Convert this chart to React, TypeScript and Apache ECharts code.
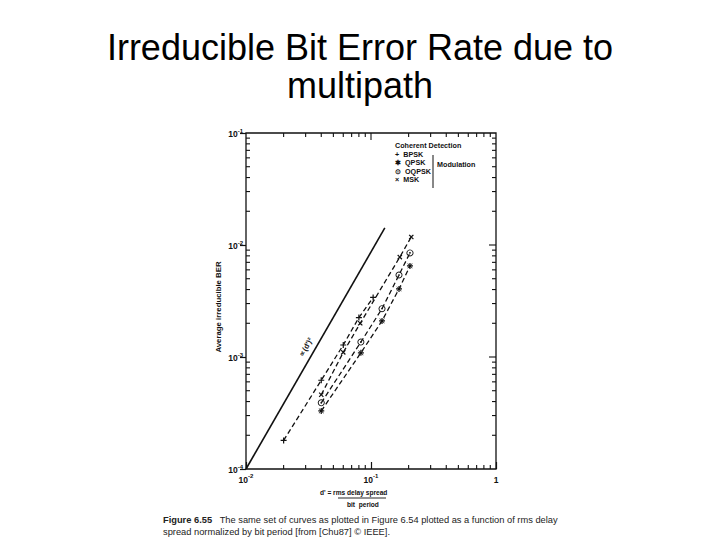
import React, { useEffect, useRef } from 'react';
import * as echarts from 'echarts';

const titleText = 'Irreducible Bit Error Rate due to\nmultipath';
const xDecades = [0.01, 0.1, 1];
const xTickLabels = ['{b|10}{s|-2}', '{b|10}{s|-1}', '{b|1}'];
const yDecades = [1e-4, 1e-3, 1e-2, 1e-1];
const yTickLabels = ['{b|10}{s|-4}', '{b|10}{s|-3}', '{b|10}{s|-2}', '{b|10}{s|-1}'];
const minorMultipliers = [2, 3, 4, 5, 6, 7, 8, 9];

const theoryD = [0.01, 0.129];
const theoryBer = [1e-4, 1.42e-2];

const bpskD = [0.02, 0.04, 0.06, 0.08, 0.104];
const bpskBer = [1.8e-4, 6.2e-4, 1.28e-3, 2.25e-3, 3.4e-3];

const qpskD = [0.04, 0.083, 0.1225, 0.1675, 0.205];
const qpskBer = [3.3e-4, 1.09e-3, 2.1e-3, 4.05e-3, 6.5e-3];

const oqpskD = [0.04, 0.083, 0.1225, 0.1675, 0.205];
const oqpskBer = [3.9e-4, 1.36e-3, 2.7e-3, 5.4e-3, 8.5e-3];

const mskD = [0.04, 0.06, 0.082, 0.17, 0.21];
const mskBer = [4.6e-4, 1.1e-3, 2.0e-3, 7.8e-3, 1.18e-2];

const legendTitle = 'Coherent Detection';
const legendItems = ['+  BPSK', '✱  QPSK', '⊙  OQPSK', '×  MSK'];
const legendGroupLabel = 'Modulation';
const theoryLabel = '∝(d′)²';
const xNameTop = "d' = ";
const xNameUnder = 'rms delay spread';
const xNameBottom = 'bit  period';
const yName = 'Average irreducible BER';
const captionBold = 'Figure 6.55';
const captionRest = '   The same set of curves as plotted in Figure 6.54 plotted as a function of rms delay\nspread normalized by bit period [from [Chu87] © IEEE].';

const FONT = 'Liberation Sans, Arial, Helvetica, sans-serif';
const INK = '#111';

const PLUS = 'path://M4,0H6V4H10V6H6V10H4V6H0V4H4Z';
const STAR =
  'path://M4,0H6V4H10V6H6V10H4V6H0V4H4Z M0.7,1.4L1.4,0.7L9.3,8.6L8.6,9.3Z M8.6,0.7L9.3,1.4L1.4,9.3L0.7,8.6Z';
const RING =
  'path://M5,0A5,5 0 1,1 4.99,0Z M5,1.3A3.7,3.7 0 1,0 5.01,1.3Z M5,3.8A1.2,1.2 0 1,1 4.99,3.8Z';

const tickRich = {
  b: { fontSize: 8.5, fontWeight: 'bold', fontFamily: FONT, color: INK, lineHeight: 11, verticalAlign: 'bottom' },
  s: { fontSize: 6, fontWeight: 'bold', fontFamily: FONT, color: INK, lineHeight: 11, verticalAlign: 'top', padding: [0, 0, 3, 0] },
};

function zip(a: number[], b: number[]) {
  return a.map((v, i) => [v, b[i]]);
}

function labelFor(v: number, decades: number[], labels: string[]) {
  const e = Math.round(Math.log10(v));
  const idx = decades.findIndex((d) => Math.round(Math.log10(d)) === e);
  return idx >= 0 ? labels[idx] : '';
}

export default function App() {
  const ref = useRef<HTMLDivElement>(null);
  useEffect(() => {
    if (!ref.current) return;
    const chart = echarts.init(ref.current, undefined, { renderer: 'svg' });

    const xTicks: number[][] = [];
    for (let i = 0; i < xDecades.length - 1; i++) {
      for (const m of minorMultipliers) xTicks.push([xDecades[i] * m, 4]);
      if (i > 0) xTicks.push([xDecades[i], 7]);
    }
    const yTicks: number[][] = [];
    for (let i = 0; i < yDecades.length - 1; i++) {
      for (const m of minorMultipliers) yTicks.push([yDecades[i] * m, 4]);
      if (i > 0) yTicks.push([yDecades[i], 7]);
    }

    const lineStyle = { color: INK, width: 1.3, type: [5, 3] as any };
    const dashed = (name: string, d: number[], b: number[], symbol: string, size: number, rotate = 0) => ({
      name,
      type: 'line',
      data: zip(d, b),
      symbol,
      symbolSize: size,
      symbolRotate: rotate,
      showSymbol: true,
      itemStyle: { color: INK },
      lineStyle,
      z: 3,
    });

    chart.setOption({
      animation: false,
      backgroundColor: '#fff',
      title: {
        text: titleText,
        left: 'center',
        top: 23,
        textStyle: {
          fontSize: 36,
          lineHeight: 38,
          fontWeight: 'normal',
          fontFamily: FONT,
          color: '#000',
        },
      },
      grid: {
        left: 246,
        right: 224,
        top: 133,
        bottom: 71,
        show: true,
        borderColor: INK,
        borderWidth: 1.3,
        backgroundColor: 'transparent',
      },
      xAxis: {
        type: 'log',
        logBase: 10,
        min: 0.01,
        max: 1,
        splitLine: { show: false },
        axisLine: { show: false },
        axisTick: { show: true, inside: true, length: 7, lineStyle: { color: INK, width: 1.2 } },
        axisLabel: {
          formatter: (v: number) => labelFor(v, xDecades, xTickLabels),
          rich: tickRich,
          margin: 4,
        },
      },
      yAxis: {
        type: 'log',
        logBase: 10,
        min: 1e-4,
        max: 1e-1,
        splitLine: { show: false },
        axisLine: { show: false },
        axisTick: { show: true, inside: false, length: 6, lineStyle: { color: INK, width: 1.2 } },
        axisLabel: {
          formatter: (v: number) => labelFor(v, yDecades, yTickLabels),
          rich: tickRich,
          margin: 3,
        },
      },
      series: [
        {
          name: 'theory',
          type: 'line',
          data: zip(theoryD, theoryBer),
          symbol: 'none',
          lineStyle: { color: INK, width: 1.6 },
          z: 3,
        },
        dashed('BPSK', bpskD, bpskBer, PLUS, 6),
        dashed('QPSK', qpskD, qpskBer, STAR, 6),
        dashed('OQPSK', oqpskD, oqpskBer, RING, 7),
        dashed('MSK', mskD, mskBer, PLUS, 6, 45),
        {
          name: 'xMinor',
          type: 'custom',
          data: xTicks,
          silent: true,
          clip: false,
          renderItem: (params: any, api: any) => {
            const p = api.coord([api.value(0), 1e-4]);
            const len = api.value(1);
            const cs = params.coordSys;
            const st = { stroke: INK, lineWidth: 1.1 };
            const children: any[] = [
              { type: 'line', shape: { x1: p[0], y1: cs.y, x2: p[0], y2: cs.y + len }, style: st },
            ];
            if (len < 6) {
              children.push({
                type: 'line',
                shape: { x1: p[0], y1: cs.y + cs.height, x2: p[0], y2: cs.y + cs.height - len },
                style: st,
              });
            }
            return { type: 'group', children };
          },
        },
        {
          name: 'yMinor',
          type: 'custom',
          data: yTicks.map((t) => [0.01, t[0], t[1]]),
          silent: true,
          clip: false,
          renderItem: (params: any, api: any) => {
            const p = api.coord([0.01, api.value(1)]);
            const len = api.value(2);
            const cs = params.coordSys;
            const st = { stroke: INK, lineWidth: 1.1 };
            const children: any[] = [
              {
                type: 'line',
                shape: { x1: cs.x + cs.width, y1: p[1], x2: cs.x + cs.width - len, y2: p[1] },
                style: st,
              },
            ];
            if (len < 6) {
              children.push({
                type: 'line',
                shape: { x1: cs.x, y1: p[1], x2: cs.x + len, y2: p[1] },
                style: st,
              });
            }
            return { type: 'group', children };
          },
        },
      ],
      graphic: [
        {
          type: 'text',
          x: 218,
          y: 307,
          rotation: Math.PI / 2,
          style: {
            text: yName,
            fontSize: 7.8,
            fontWeight: 'bold',
            fontFamily: FONT,
            fill: INK,
            align: 'center',
            verticalAlign: 'middle',
          },
        },
        {
          type: 'text',
          x: 395,
          y: 142,
          style: { text: legendTitle, fontSize: 7.2, fontWeight: 'bold', fontFamily: FONT, fill: INK },
        },
        ...legendItems.map((t, i) => ({
          type: 'text',
          x: 395,
          y: 151 + i * 8.3,
          style: { text: t, fontSize: 7.2, fontWeight: 'bold', fontFamily: FONT, fill: INK },
        })),
        {
          type: 'line',
          shape: { x1: 433, y1: 155, x2: 433, y2: 188 },
          style: { stroke: INK, lineWidth: 1 },
        },
        {
          type: 'text',
          x: 437,
          y: 161,
          style: { text: legendGroupLabel, fontSize: 7.2, fontWeight: 'bold', fontFamily: FONT, fill: INK },
        },
        {
          type: 'text',
          x: 306,
          y: 347,
          rotation: (61 * Math.PI) / 180,
          style: {
            text: theoryLabel,
            fontSize: 7.5,
            fontWeight: 'bold',
            fontFamily: FONT,
            fill: INK,
            align: 'center',
            verticalAlign: 'middle',
          },
        },
        {
          type: 'text',
          x: 320,
          y: 489,
          style: {
            text: xNameTop + xNameUnder,
            fontSize: 6.6,
            fontWeight: 'bold',
            fontFamily: FONT,
            fill: INK,
          },
        },
        {
          type: 'line',
          shape: { x1: 338, y1: 498, x2: 386, y2: 498 },
          style: { stroke: INK, lineWidth: 0.9 },
        },
        {
          type: 'text',
          x: 347,
          y: 501,
          style: { text: xNameBottom, fontSize: 6.6, fontWeight: 'bold', fontFamily: FONT, fill: INK },
        },
        {
          type: 'text',
          x: 163,
          y: 514,
          style: {
            text: '{b|' + captionBold + '}' + captionRest,
            fontSize: 9.3,
            lineHeight: 12,
            fontFamily: FONT,
            fill: '#222',
            rich: {
              b: { fontSize: 9.3, fontWeight: 'bold', fontFamily: FONT, fill: '#222' },
            },
          },
        },
      ],
    });
    return () => chart.dispose();
  }, []);
  return (
    <div
      ref={ref}
      style={{ position: 'fixed', left: 0, top: 0, width: 720, height: 540, background: '#fff' }}
    />
  );
}
